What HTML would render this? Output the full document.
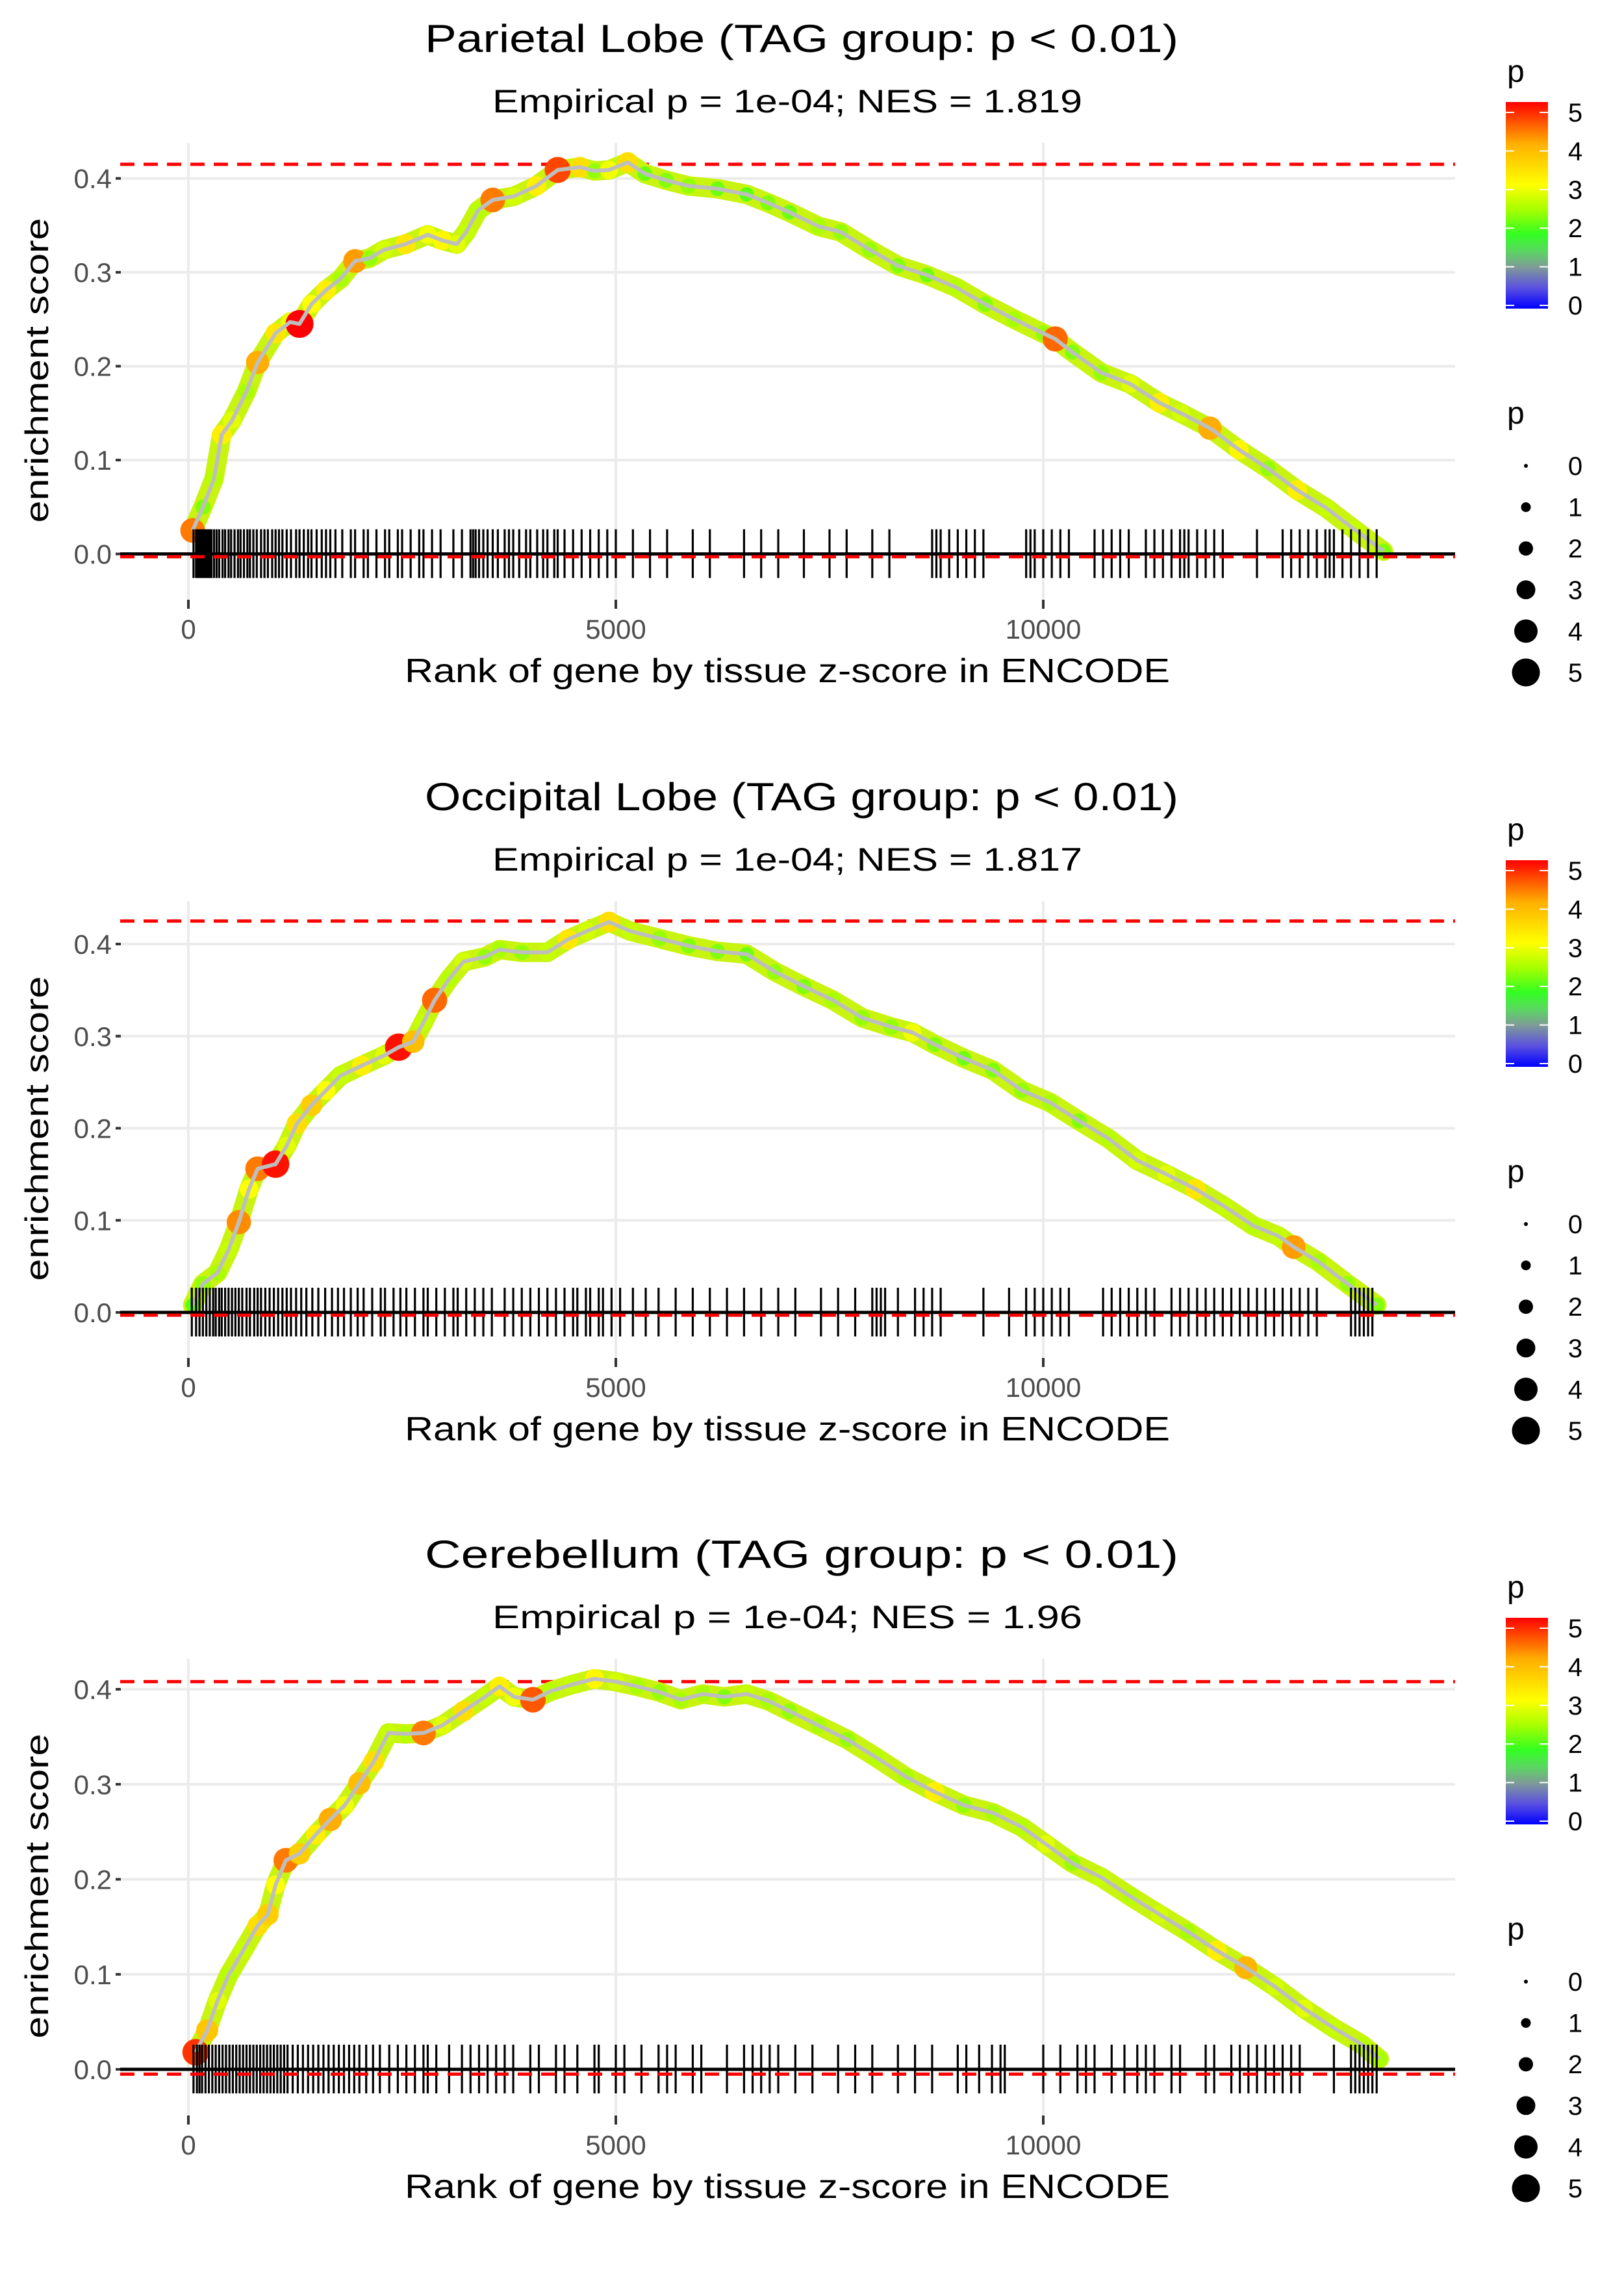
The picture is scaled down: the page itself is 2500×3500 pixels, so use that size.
<!DOCTYPE html>
<html><head><meta charset="utf-8">
<style>
html,body{margin:0;padding:0;background:#fff;}
svg{display:block;font-family:"Liberation Sans",Arial,sans-serif;}
</style></head>
<body>
<svg id="chart" width="2500" height="3500" viewBox="0 0 2500 3500" xmlns="http://www.w3.org/2000/svg">
<defs>
<linearGradient id="pgrad" x1="0" y1="1" x2="0" y2="0">
<stop offset="0" stop-color="#0000ff"/>
<stop offset="0.1" stop-color="#5a50e0"/>
<stop offset="0.2" stop-color="#7f9a98"/>
<stop offset="0.28" stop-color="#5ad860"/>
<stop offset="0.36" stop-color="#33ff22"/>
<stop offset="0.48" stop-color="#a8ff00"/>
<stop offset="0.6" stop-color="#ffff00"/>
<stop offset="0.8" stop-color="#ffae00"/>
<stop offset="1" stop-color="#ff0000"/>
</linearGradient>
</defs>
</svg>
<script>
// ---- Panel 1: Parietal Lobe ----
const p1Ranks=[50,170,300,390,510,680,810,1020,1190,1300,1440,1610,1780,1950,2120,2290,2540,2800,2970,3140,3250,3390,3560,3810,4070,4320,4580,4750,4920,5140,5340,5590,5850,6190,6530,6780,7030,7370,7630,7970,8300,8640,8980,9320,9660,10000,10140,10340,10680,11020,11360,11610,11950,12290,12630,12970,13310,13640,13980];
const p1ES=[0.025,0.05,0.08,0.127,0.142,0.173,0.204,0.235,0.247,0.245,0.266,0.281,0.293,0.312,0.315,0.324,0.33,0.34,0.334,0.33,0.343,0.366,0.377,0.381,0.392,0.409,0.412,0.408,0.409,0.417,0.405,0.398,0.392,0.389,0.383,0.374,0.364,0.349,0.343,0.324,0.307,0.297,0.284,0.266,0.25,0.235,0.229,0.215,0.193,0.181,0.161,0.15,0.134,0.111,0.091,0.068,0.049,0.026,0.003];
const p1P=[4.3,2.2,2.5,3.2,2.8,2.4,4.0,3.3,2.9,5.0,3.0,3.2,2.4,4.1,2.3,2.7,3.3,2.9,3.1,2.8,2.6,2.5,4.3,2.7,3.2,4.6,3.4,2.3,2.9,3.4,2.1,2.2,2.3,2.1,2.0,2.2,2.1,2.4,2.3,2.3,2.2,2.1,2.5,2.2,2.4,2.3,4.4,2.2,2.3,2.8,3.2,2.7,4.0,3.1,2.3,3.2,2.6,2.6,2.2];
const p1Rug=[60,90,110,130,150,170,190,210,230,250,270,300,330,360,400,430,470,500,540,580,610,650,690,720,760,800,850,890,930,980,1020,1060,1100,1150,1200,1260,1300,1350,1400,1440,1500,1560,1610,1660,1720,1800,1900,1950,2050,2100,2200,2300,2350,2450,2500,2600,2700,2750,2850,2950,3100,3200,3300,3330,3360,3400,3450,3500,3560,3620,3700,3750,3800,3870,3950,4000,4080,4150,4200,4280,4320,4400,4500,4600,4700,4800,4900,5000,5200,5400,5600,5900,6100,6500,6700,6900,7200,7500,7700,8000,8200,8700,8750,8800,8900,9000,9100,9200,9300,9800,9850,9900,10000,10100,10200,10300,10600,10700,10800,10900,11000,11200,11300,11400,11500,11600,11650,11700,11800,11900,12000,12100,12500,12800,12900,13000,13100,13200,13300,13350,13400,13500,13600,13700,13800,13900];
// ---- Panel 2: Occipital Lobe ----
const p2Ranks=[50,170,340,470,590,710,810,1020,1150,1270,1440,1610,1780,2030,2290,2460,2630,2750,2880,3050,3220,3470,3640,3900,4200,4440,4660,4920,5170,5510,5850,6190,6530,6860,7200,7540,7880,8220,8470,8730,9070,9410,9750,10080,10420,10760,11100,11440,11780,12120,12460,12750,12930,13220,13560,13900];
const p2ES=[0.008,0.031,0.043,0.068,0.098,0.134,0.156,0.161,0.181,0.205,0.225,0.241,0.257,0.268,0.279,0.288,0.294,0.315,0.339,0.362,0.381,0.386,0.394,0.391,0.391,0.405,0.414,0.424,0.414,0.406,0.398,0.392,0.389,0.37,0.354,0.339,0.32,0.31,0.304,0.291,0.276,0.263,0.241,0.228,0.208,0.189,0.165,0.15,0.134,0.115,0.094,0.083,0.071,0.055,0.031,0.008];
const p2P=[2.0,2.3,2.4,2.6,4.2,3.0,4.3,4.9,2.8,3.4,3.6,3.0,2.6,3.2,2.8,4.9,3.8,2.6,4.4,2.5,2.7,2.3,2.4,2.3,2.6,3.3,2.7,3.4,2.6,2.3,2.2,2.2,2.1,2.3,2.2,2.4,2.3,2.3,2.9,2.2,2.1,2.2,2.3,2.4,2.2,2.5,2.7,2.8,3.3,2.6,2.5,2.6,4.1,2.4,2.3,2.2];
const p2Rug=[40,90,130,170,210,250,290,320,360,390,430,470,510,550,590,630,680,720,770,810,850,900,950,1000,1050,1100,1150,1200,1260,1320,1380,1450,1520,1600,1680,1750,1820,1900,1980,2050,2150,2250,2300,2400,2480,2550,2650,2750,2800,2900,3000,3100,3150,3250,3350,3450,3550,3700,3800,3900,4000,4100,4200,4300,4400,4500,4550,4650,4700,4800,4850,4950,5050,5200,5350,5500,5700,5900,6100,6300,6500,6700,6900,7100,7400,7600,7800,8000,8050,8100,8150,8300,8500,8600,8700,8800,9300,9600,9800,9900,10000,10100,10200,10300,10700,10800,10900,11000,11100,11200,11300,11500,11600,11700,11800,11900,12000,12100,12200,12300,12400,12500,12600,12700,12800,12900,13000,13100,13200,13600,13650,13700,13750,13800,13850];
// ---- Panel 3: Cerebellum ----
const p3Ranks=[85,220,340,470,640,810,930,1020,1140,1300,1490,1660,1830,2000,2170,2340,2540,2750,2970,3220,3470,3640,3810,4030,4240,4490,4750,5000,5250,5510,5760,6020,6270,6530,6780,7030,7370,7710,8050,8390,8730,9070,9410,9750,10030,10340,10680,11020,11360,11690,12030,12370,12710,13050,13390,13730,13930];
const p3ES=[0.018,0.041,0.072,0.099,0.125,0.151,0.163,0.194,0.22,0.227,0.247,0.263,0.278,0.301,0.324,0.354,0.353,0.354,0.362,0.377,0.392,0.403,0.392,0.389,0.398,0.405,0.411,0.408,0.403,0.397,0.389,0.395,0.392,0.395,0.388,0.377,0.362,0.347,0.328,0.308,0.292,0.278,0.27,0.255,0.237,0.217,0.202,0.182,0.163,0.145,0.125,0.107,0.087,0.064,0.044,0.026,0.011];
const p3P=[4.7,3.7,2.8,2.5,2.6,3.4,3.6,3.0,4.3,3.6,3.2,4.0,2.9,3.8,3.4,2.6,2.5,4.3,2.8,3.4,2.6,3.2,2.9,4.5,2.5,2.6,3.1,2.7,2.4,2.3,2.4,2.4,2.2,2.6,2.4,2.3,2.4,2.3,2.5,2.4,3.2,2.3,2.4,2.5,2.8,2.3,2.6,2.5,2.7,2.4,3.2,3.9,2.7,2.8,2.6,2.5,2.4];
const p3Rug=[60,100,130,160,200,240,280,320,360,400,440,480,520,560,600,640,680,720,760,800,840,880,920,960,1000,1040,1080,1120,1160,1220,1280,1340,1400,1460,1520,1580,1640,1700,1760,1820,1880,1940,2000,2080,2160,2240,2350,2450,2550,2650,2750,2800,2900,3050,3200,3300,3400,3500,3600,3700,3800,4000,4100,4300,4400,4550,4750,4800,5000,5100,5300,5500,5600,5700,5900,6000,6300,6500,6600,6700,6800,6900,7100,7300,7600,7800,8000,8300,8500,8700,9000,9100,9250,9400,9500,9550,10000,10200,10400,10500,10600,10800,10950,11100,11200,11300,11500,11600,11900,12000,12200,12300,12400,12500,12600,12700,12800,12900,13000,13400,13600,13650,13700,13750,13800,13850,13900];
const xTickVals=[0,5000,10000];
const xTickLabels=["0","5000","10000"];
const yTickVals=[0,0.1,0.2,0.3,0.4];
const yTickLabels=["0.0","0.1","0.2","0.3","0.4"];
const legendVals=[0,1,2,3,4,5];
const titles=["Parietal Lobe (TAG group: p < 0.01)","Occipital Lobe (TAG group: p < 0.01)","Cerebellum (TAG group: p < 0.01)"];
const subtitles=["Empirical p = 1e-04; NES = 1.819","Empirical p = 1e-04; NES = 1.817","Empirical p = 1e-04; NES = 1.96"];
const maxES=[0.415,0.425,0.408];
const minES=[-0.003,-0.003,-0.005];

const NS="http://www.w3.org/2000/svg";
const svg=document.getElementById('chart');
function mk(tag,attrs,parent){const e=document.createElementNS(NS,tag);for(const k in attrs)e.setAttribute(k,attrs[k]);(parent||svg).appendChild(e);return e;}
const stops=[[0,[0,0,255]],[0.5,[90,80,224]],[1,[127,154,152]],[1.4,[90,216,96]],[1.8,[51,255,34]],[2.4,[168,255,0]],[3,[255,255,0]],[4,[255,174,0]],[5,[255,0,0]]];
function pColor(p){for(let i=1;i<stops.length;i++){if(p<=stops[i][0]){const a=stops[i-1],b=stops[i];const t=(p-a[0])/(b[0]-a[0]);const c=a[1].map((v,j)=>Math.round(v+(b[1][j]-v)*t));return 'rgb('+c.join(',')+')';}}return 'rgb(255,0,0)';}
function pRadius(p){return 4+3.5*p;}
const xScale=r=>290+r*658/5000;
const PL=185,PR=2240;

function panel(idx,off,zeroY,perUnit,ranks,es,ps,rug){
  const g=mk('g',{});
  
  
  const yS=v=>zeroY-v*perUnit;
  const top=220+off,bot=922+off;
  yTickVals.forEach((v,i)=>{const l=mk('line',{x1:PL,x2:PR,y1:yS(v),y2:yS(v),stroke:'#ebebeb','stroke-width':4},g);
    });
  xTickVals.forEach(v=>{const l=mk('line',{x1:xScale(v),x2:xScale(v),y1:top,y2:bot,stroke:'#ebebeb','stroke-width':4},g);
    });
  yTickVals.forEach((v,i)=>{
    mk('line',{x1:178,x2:186,y1:yS(v),y2:yS(v),stroke:'#333','stroke-width':4},g);
    const t=mk('text',{x:172,y:yS(v)+15,'text-anchor':'end','font-size':42,fill:'#4d4d4d'},g);t.textContent=yTickLabels[i];
    });
  xTickVals.forEach((v,i)=>{
    mk('line',{x1:xScale(v),x2:xScale(v),y1:bot+1,y2:bot+15,stroke:'#333','stroke-width':4},g);
    const t=mk('text',{x:xScale(v),y:968+off+15,'text-anchor':'middle','font-size':42,fill:'#4d4d4d'},g);t.textContent=xTickLabels[i];
    });
  const d1=mk('line',{x1:PL,x2:PR,y1:yS(maxES[idx]),y2:yS(maxES[idx]),stroke:'#ff0000','stroke-width':5,'stroke-dasharray':'22 14'},g);
  
  const pts=ranks.map((r,i)=>xScale(r)+','+yS(es[i])).join(' ');
  mk('polyline',{points:pts,fill:'none',stroke:'#c8f410','stroke-width':30,'stroke-linejoin':'round','stroke-linecap':'round'},g);
  ranks.forEach((r,i)=>{const c=mk('circle',{cx:xScale(r),cy:yS(es[i]),r:pRadius(ps[i]),fill:pColor(ps[i])},g);
    });
  const line=mk('polyline',{points:pts,fill:'none',stroke:'#bebebe','stroke-width':6,'stroke-linejoin':'round'},g);
  
  rug.forEach(r=>{const l=mk('line',{x1:xScale(r),x2:xScale(r),y1:zeroY-38,y2:zeroY+37,stroke:'#000','stroke-width':3.2},g);
    });
  const z=mk('line',{x1:PL,x2:PR,y1:zeroY,y2:zeroY,stroke:'#000','stroke-width':5},g);
  
  const d2=mk('line',{x1:PL,x2:PR,y1:yS(minES[idx]),y2:yS(minES[idx]),stroke:'#ff0000','stroke-width':5,'stroke-dasharray':'22 14'},g);
  
  const t1=mk('text',{x:1234,y:60+off+20,'text-anchor':'middle','font-size':60,fill:'#000',textLength:1160,lengthAdjust:'spacingAndGlyphs'},g);t1.textContent=titles[idx];
  
  const t2=mk('text',{x:1212,y:156+off+17,'text-anchor':'middle','font-size':50,fill:'#000',textLength:908,lengthAdjust:'spacingAndGlyphs'},g);t2.textContent=subtitles[idx];
  
  const xt=mk('text',{x:1212,y:1033+off+17,'text-anchor':'middle','font-size':52,fill:'#000',textLength:1178,lengthAdjust:'spacingAndGlyphs'},g);xt.textContent='Rank of gene by tissue z-score in ENCODE';
  
  const yt=mk('text',{x:0,y:0,'text-anchor':'middle','font-size':50,fill:'#000',textLength:469,lengthAdjust:'spacingAndGlyphs',transform:'translate(74,'+(570+off)+') rotate(-90)'},g);yt.textContent='enrichment score';
  
  const lg=mk('g',{},g);
  
  const pt=mk('text',{x:2320,y:126+off,'font-size':48,fill:'#000'},lg);pt.textContent='p';
  mk('rect',{x:2318,y:157+off,width:65,height:318,fill:'url(#pgrad)'},lg);
  legendVals.forEach(v=>{const y=470+off-v*59.4;
    mk('line',{x1:2318,x2:2331,y1:y,y2:y,stroke:'#fff','stroke-width':2},lg);
    mk('line',{x1:2370,x2:2383,y1:y,y2:y,stroke:'#fff','stroke-width':2},lg);
    const t=mk('text',{x:2425,y:y+14,'text-anchor':'middle','font-size':40,fill:'#000'},lg);t.textContent=String(v);});
  const sg=mk('g',{},g);
  
  const st=mk('text',{x:2320,y:652+off,'font-size':48,fill:'#000'},sg);st.textContent='p';
  legendVals.forEach(v=>{const y=717+off+v*63.6;
    mk('circle',{cx:2349,cy:y,r:pRadius(v)-(v===0?1:0),fill:'#000'},sg);
    const t=mk('text',{x:2425,y:y+14,'text-anchor':'middle','font-size':40,fill:'#000'},sg);t.textContent=String(v);});
}
panel(0,0,852.6,1445,p1Ranks,p1ES,p1P,p1Rug);
panel(1,1167,2020,1417.5,p2Ranks,p2ES,p2P,p2Rug);
panel(2,2333,3185,1462.5,p3Ranks,p3ES,p3P,p3Rug);
</script>
</body></html>
